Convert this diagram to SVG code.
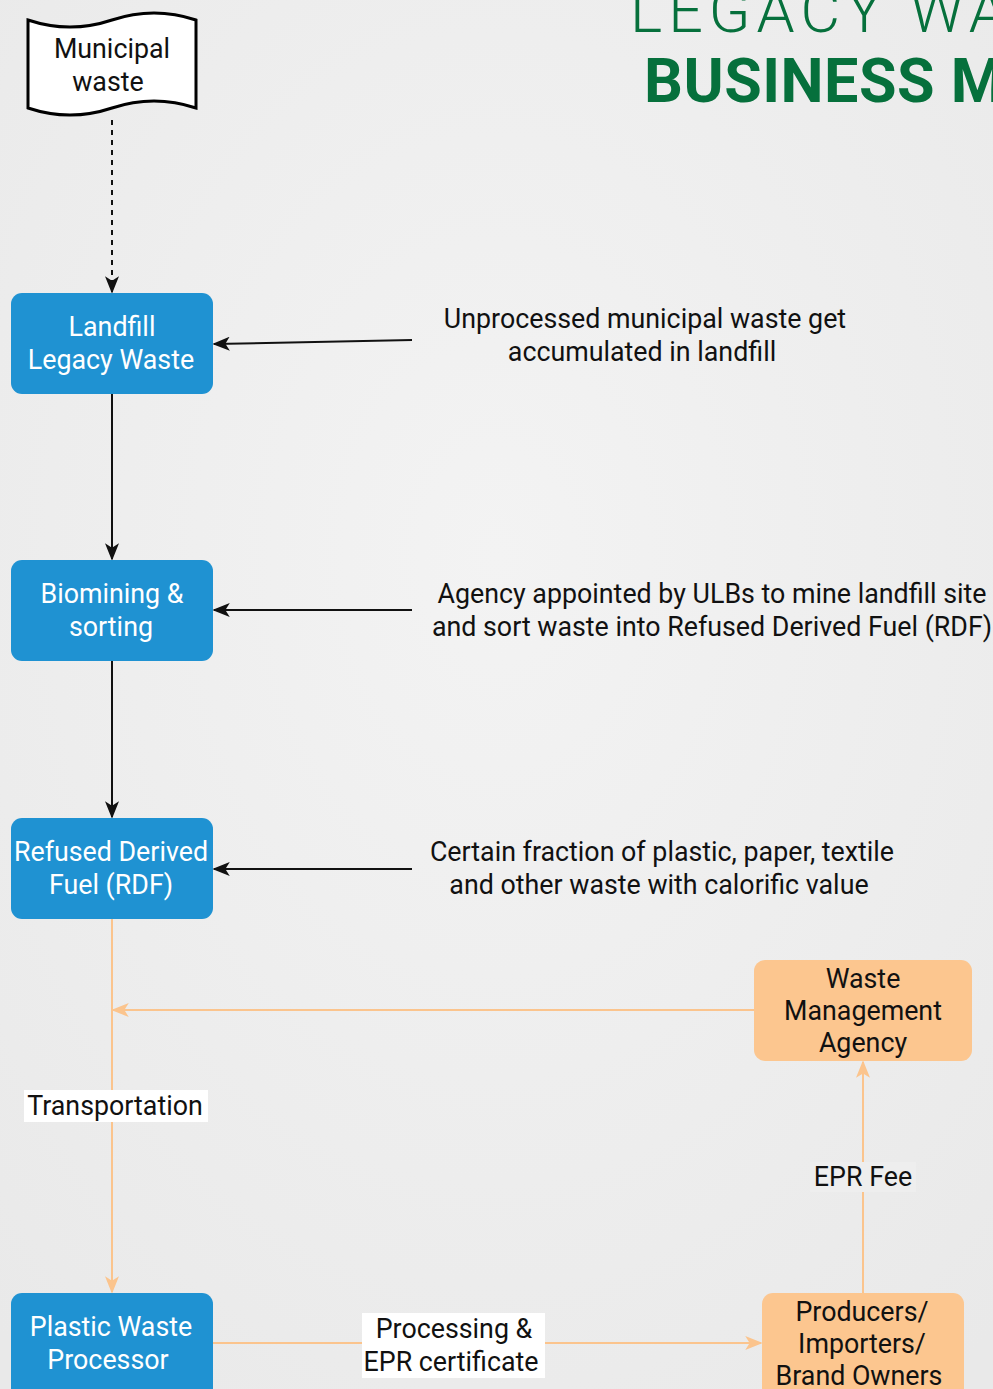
<svg xmlns="http://www.w3.org/2000/svg" width="993" height="1389" viewBox="0 0 993 1389">
<defs>
<style>
.t{font-family:Roboto,"Liberation Sans",sans-serif;font-size:26.8px;text-anchor:middle}
.w{fill:#ffffff}
.k{fill:#111111}
.blue{fill:#1f92d2}
.org{fill:#fcc68f}
.bl{stroke:#111;stroke-width:2;fill:none}
.ol{stroke:#fbc48d;stroke-width:2;fill:none}
</style>
<marker id="ab" viewBox="0 0 20 16" refX="18" refY="8" markerWidth="18" markerHeight="14" markerUnits="userSpaceOnUse" orient="auto">
<path d="M0,0 L20,8 L0,16 L5,8 Z" fill="#111"/>
</marker>
<marker id="ao" viewBox="0 0 20 16" refX="18" refY="8" markerWidth="18" markerHeight="14" markerUnits="userSpaceOnUse" orient="auto">
<path d="M0,0 L20,8 L0,16 L5,8 Z" fill="#fbc48d"/>
</marker>
<radialGradient id="bg" cx="50%" cy="40%" r="75%">
<stop offset="0" stop-color="#f3f3f3"/>
<stop offset="1" stop-color="#e9e9e9"/>
</radialGradient>
</defs>
<rect x="0" y="0" width="993" height="1389" fill="url(#bg)"/>
<g id="title" font-family="Roboto,'Liberation Sans',sans-serif" fill="#06703c">
<text x="630" y="32" font-size="61" font-weight="300" letter-spacing="6">LEGACY WASTE</text>
<text x="644" y="102" font-size="61" font-weight="700" letter-spacing="0.5">BUSINESS MODEL</text>
</g>
<g id="connectors">
<line x1="112" y1="120" x2="112" y2="292" stroke="#111" stroke-width="2" stroke-dasharray="5,5" marker-end="url(#ab)"/>
<line class="bl" x1="112" y1="394" x2="112" y2="559" marker-end="url(#ab)"/>
<line class="bl" x1="112" y1="661" x2="112" y2="817" marker-end="url(#ab)"/>
<line class="bl" x1="412" y1="340" x2="214" y2="344" marker-end="url(#ab)"/>
<line class="bl" x1="412" y1="610" x2="214" y2="610" marker-end="url(#ab)"/>
<line class="bl" x1="412" y1="869" x2="214" y2="869" marker-end="url(#ab)"/>
<line class="ol" x1="112" y1="919" x2="112" y2="1292" marker-end="url(#ao)"/>
<line class="ol" x1="754" y1="1010" x2="113" y2="1010" marker-end="url(#ao)"/>
<line class="ol" x1="863" y1="1293" x2="863" y2="1062" marker-end="url(#ao)"/>
<line class="ol" x1="213" y1="1343" x2="761" y2="1343" marker-end="url(#ao)"/>
<rect x="24" y="1090" width="184" height="32" fill="#ffffff"/>
<text class="t k" x="115" y="1115">Transportation</text>
<rect x="810" y="1162" width="106" height="30" fill="#eeeeee"/>
<text class="t k" x="863" y="1186">EPR Fee</text>
<rect x="362" y="1313" width="183" height="65" fill="#ffffff"/>
<text class="t k" x="454" y="1338">Processing &amp;</text>
<text class="t k" x="451" y="1371">EPR certificate</text>
</g>
<g id="municipal">
<path d="M28,20 Q70,34 112,20 Q154,6 196,20 L196,108 Q154,94 112,108 Q70,122 28,108 Z" fill="#ffffff" stroke="#000" stroke-width="3"/>
<text class="t k" x="112" y="58">Municipal</text>
<text class="t k" x="108" y="91">waste</text>
</g>
<g id="landfill">
<rect class="blue" x="11" y="293" width="202" height="101" rx="11"/>
<text class="t w" x="112" y="336">Landfill</text>
<text class="t w" x="111" y="369">Legacy Waste</text>
</g>
<g id="biomining">
<rect class="blue" x="11" y="560" width="202" height="101" rx="11"/>
<text class="t w" x="112" y="603">Biomining &amp;</text>
<text class="t w" x="111" y="636">sorting</text>
</g>
<g id="rdf">
<rect class="blue" x="11" y="818" width="202" height="101" rx="11"/>
<text class="t w" x="111" y="861">Refused Derived</text>
<text class="t w" x="111" y="894">Fuel (RDF)</text>
</g>
<g id="pwp">
<rect class="blue" x="11" y="1293" width="202" height="110" rx="11"/>
<text class="t w" x="111" y="1336">Plastic Waste</text>
<text class="t w" x="108" y="1369">Processor</text>
</g>
<g id="wma">
<rect class="org" x="754" y="960" width="218" height="101" rx="11"/>
<text class="t k" x="863" y="988">Waste</text>
<text class="t k" x="863" y="1020">Management</text>
<text class="t k" x="863" y="1052">Agency</text>
</g>
<g id="producers">
<rect class="org" x="762" y="1293" width="202" height="110" rx="11"/>
<text class="t k" x="862" y="1321">Producers/</text>
<text class="t k" x="862" y="1353">Importers/</text>
<text class="t k" x="859" y="1385">Brand Owners</text>
</g>
<g id="notes">
<text class="t k" x="645" y="328">Unprocessed municipal waste get</text>
<text class="t k" x="642" y="361">accumulated in landfill</text>
<text class="t k" x="712" y="603">Agency appointed by ULBs to mine landfill site</text>
<text class="t k" x="712" y="636">and sort waste into Refused Derived Fuel (RDF)</text>
<text class="t k" x="662" y="861">Certain fraction of plastic, paper, textile</text>
<text class="t k" x="659" y="894">and other waste with calorific value</text>
</g>
</svg>
